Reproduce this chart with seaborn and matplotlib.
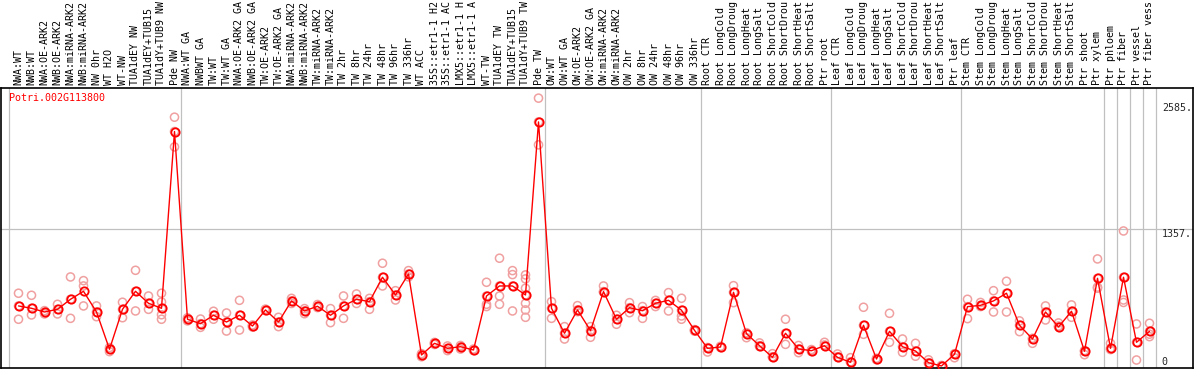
import numpy as np
import pandas as pd
import matplotlib
matplotlib.use("Agg")
import matplotlib.pyplot as plt
import seaborn as sns

sns.set_style("white")
plt.rcParams['font.family'] = ['DejaVu Sans Mono']

gene = "Potri.002G113800"

labels = [
    "NWA:WT", "NWB:WT", "NWA:OE-ARK2", "NWB:OE-ARK2", "NWA:miRNA-ARK2", "NWB:miRNA-ARK2",
    "NW 0hr", "WT H2O", "WT-NW", "TUA1dEY NW", "TUA1dEY+TUB15", "TUA1dY+TUB9 NW", "Pde NW",
    "NWA:WT GA", "NWBWT GA", "TW:WT", "TW:WT GA", "NWA:OE-ARK2 GA", "NWB:OE-ARK2 GA",
    "TW:OE-ARK2", "TW:OE-ARK2 GA", "NWA:miRNA-ARK2", "NWB:miRNA-ARK2", "TW:miRNA-ARK2",
    "TW:miRNA-ARK2", "TW 2hr", "TW 8hr", "TW 24hr", "TW 48hr", "TW 96hr", "TW 336hr",
    "WT ACC", "35S::etr1-1 H2", "35S::etr1-1 AC", "LMX5::etr1-1 H", "LMX5::etr1-1 A",
    "WT-TW", "TUA1dEY TW", "TUA1dEY+TUB15", "TUA1dY+TUB9 TW", "Pde TW",
    "OW:WT", "OW:WT GA", "OW:OE-ARK2", "OW:OE-ARK2 GA", "OW:miRNA-ARK2", "OW:miRNA-ARK2",
    "OW 2hr", "OW 8hr", "OW 24hr", "OW 48hr", "OW 96hr", "OW 336hr",
    "Root CTR", "Root LongCold", "Root LongDroug", "Root LongHeat", "Root LongSalt",
    "Root ShortCold", "Root ShortDrou", "Root ShortHeat", "Root ShortSalt", "Ptr root",
    "Leaf CTR", "Leaf LongCold", "Leaf LongDroug", "Leaf LongHeat", "Leaf LongSalt",
    "Leaf ShortCold", "Leaf ShortDrou", "Leaf ShortHeat", "Leaf ShortSalt", "Ptr leaf",
    "Stem CTR", "Stem LongCold", "Stem LongDroug", "Stem LongHeat", "Stem LongSalt",
    "Stem ShortCold", "Stem ShortDrou", "Stem ShortHeat", "Stem ShortSalt", "Ptr shoot",
    "Ptr xylem", "Ptr phloem", "Ptr fiber", "Ptr vessel", "Ptr fiber vess",
]

group_sizes = [13, 28, 12, 10, 10, 11, 1, 1, 1, 1]

means = [
    606, 583, 547, 573, 671, 749, 547, 183, 573, 749, 632, 583, 2309,
    476, 433, 515, 449, 515, 410, 567, 449, 655, 557, 603, 515, 606, 671, 648,
    886, 713, 918, 127, 241, 192, 208, 176, 703, 801, 801, 713, 2403,
    583, 339, 567, 365, 746, 476, 589, 560, 632, 661, 564, 368,
    192, 205, 739, 335, 218, 104, 339, 186, 169, 218,
    104, 56, 417, 88, 358, 208, 166, 52, 20, 134,
    599, 612, 655, 730, 417, 283, 547, 401, 554, 163, 876,
    192, 886, 251, 358,
]

replicates = [
    [730, 606, 476], [710, 583, 518], [560, 547, 528], [622, 573, 528],
    [889, 671, 485], [853, 801, 606], [606, 547, 501], [200, 183, 160],
    [642, 573, 491], [954, 749, 557], [703, 632, 573], [730, 645, 583, 520, 476],
    [2449, 2309, 2159],
    [476, 460, 490], [478, 433, 397], [554, 515, 476], [537, 449, 361],
    [661, 515, 371], [410, 400, 420], [567, 560, 575], [495, 449, 404],
    [655, 630, 680], [557, 530, 580], [603, 620, 590], [580, 515, 443],
    [703, 606, 485], [723, 671, 630], [680, 648, 573], [1023, 886, 801],
    [755, 713, 664], [951, 918, 890], [127, 110, 140], [241, 250, 230],
    [192, 215, 170], [208, 185, 220], [176, 170, 185], [837, 703, 622, 600],
    [1072, 801, 703, 622], [951, 912, 801, 557], [909, 779, 713, 632, 567, 495, 870],
    [2635, 2403, 2179],
    [648, 583, 485], [404, 339, 283], [609, 567, 550], [404, 365, 300],
    [801, 746, 740], [515, 476, 427], [638, 589, 540], [600, 560, 485],
    [660, 632, 600], [736, 661, 557], [681, 564, 508, 476], [368, 360, 375],
    [192, 156, 200], [205, 200, 212], [804, 739, 638], [335, 296, 345],
    [245, 218, 210], [140, 104, 110], [476, 339, 231], [220, 186, 150],
    [180, 169, 160], [251, 218, 225],
    [137, 104, 110], [101, 56, 60], [593, 417, 329], [88, 95, 80],
    [534, 358, 251], [283, 208, 153], [241, 166, 115], [52, 80, 45],
    [20, 25, 15], [134, 100, 140],
    [671, 599, 482], [640, 612, 600], [755, 655, 547], [847, 730, 547],
    [460, 417, 355], [283, 241, 290], [606, 547, 469], [440, 401, 410],
    [616, 554, 495], [163, 130, 170], [1065, 876, 779, 790],
    [241, 192, 180], [1338, 886, 664, 640], [430, 251, 78], [437, 358, 306, 330],
]

ytick_values = [0, 1357, 2585]
ytick_labels = ["0", "1357.", "2585."]

# long table for replicates
rep_df = pd.DataFrame(
    [(i, v) for i, reps in enumerate(replicates) for v in reps],
    columns=["pos", "value"],
)
mean_df = pd.DataFrame({"pos": np.arange(len(means)), "value": means})

W, H = 1194, 370
fig = plt.figure(figsize=(W / 100, H / 100), dpi=100)
ax = fig.add_axes([1 / W, 2 / H, 1192 / W, 280 / H])

step = 13.0
x0 = -17.5 / step
ax.set_xlim(x0, x0 + 1192 / step)
ax.set_ylim(0, 2734)

# group separators
bounds = [-0.7] + list(np.cumsum(group_sizes) - 0.5)
for b in bounds:
    ax.axvline(b, color="#c0c0c0", lw=0.9, zorder=0)
ax.axhline(1357, color="#c0c0c0", lw=0.9, zorder=0)

sns.scatterplot(data=rep_df, x="pos", y="value", ax=ax, marker="o",
                s=34, facecolor="none", edgecolor="#f0a0a0", linewidth=1.1,
                zorder=2, legend=False)
sns.lineplot(data=mean_df, x="pos", y="value", ax=ax, color="red", lw=1.0,
             marker="o", markersize=6, markerfacecolor="none",
             markeredgecolor="red", markeredgewidth=1.3, zorder=3)

ax.set_xticks([])
ax.set_yticks([])
ax.set_xlabel("")
ax.set_ylabel("")
for s in ax.spines.values():
    s.set_color("black")
    s.set_linewidth(1.2)

# column labels along the top
for i, lab in enumerate(labels):
    ax.text(i, 1.011, lab, transform=ax.get_xaxis_transform(), rotation=90,
            ha="center", va="bottom", fontsize=7.2, color="black", clip_on=False)

# value labels at the right
xl = 87.95
ax.text(xl, ytick_values[2], ytick_labels[2], fontsize=7.2, va="top", ha="left")
ax.text(xl, ytick_values[1], ytick_labels[1], fontsize=7.2, va="top", ha="left")
ax.text(xl, ytick_values[0] + 29, ytick_labels[0], fontsize=7.2, va="baseline", ha="left")

ax.text(0.0067, 0.982, gene, transform=ax.transAxes, color="red",
        fontsize=7.2, va="top", ha="left")

fig.savefig("out.png", dpi=100)
